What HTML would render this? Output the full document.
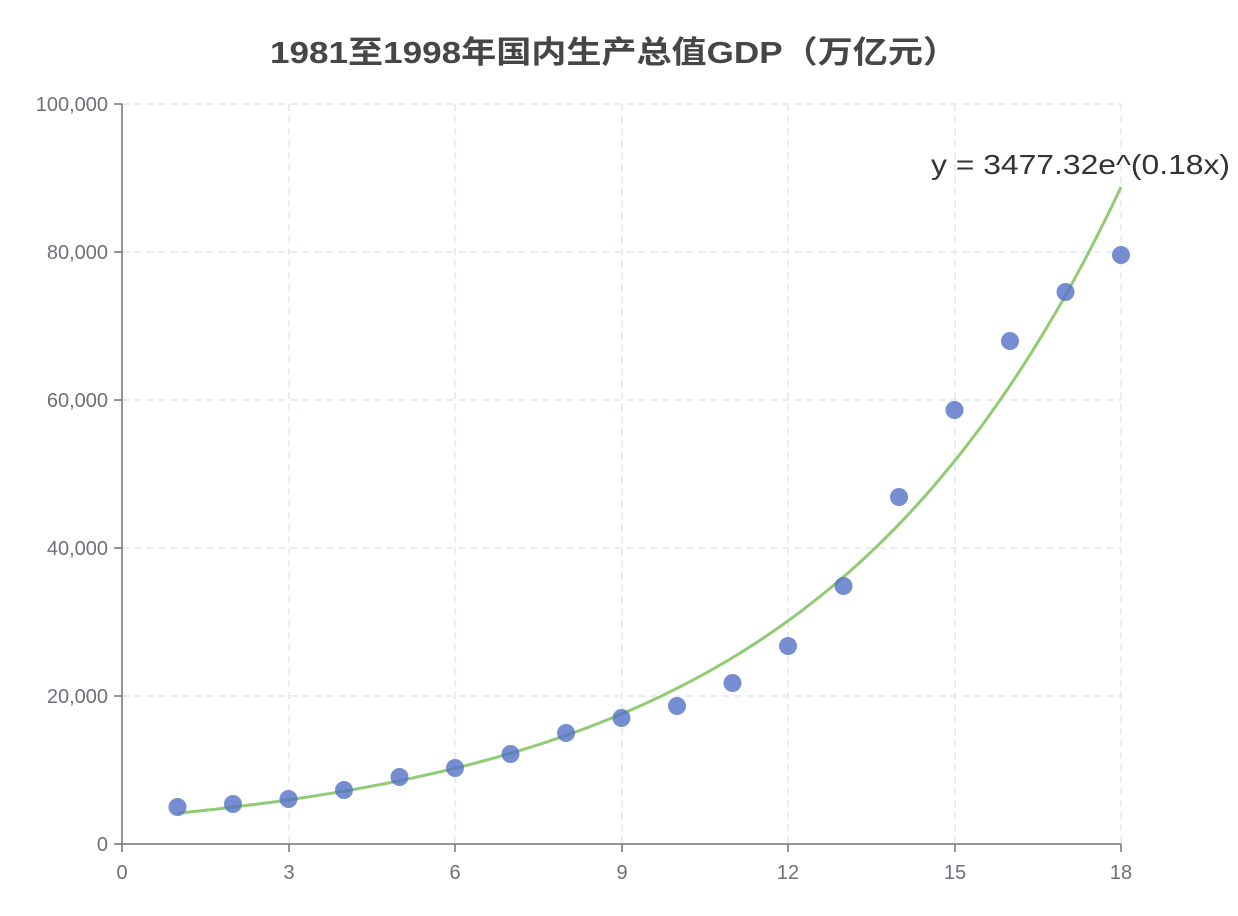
<!DOCTYPE html>
<html><head><meta charset="utf-8"><style>
body{margin:0;background:#fff;}
svg{display:block;font-family:"Liberation Sans","Noto Sans CJK SC",sans-serif;}
</style></head><body>
<svg id="s" width="1238" height="916" xmlns="http://www.w3.org/2000/svg">
<text x="270" y="63" font-size="31" font-weight="bold" fill="#464646" textLength="688" lengthAdjust="spacingAndGlyphs">1981至1998年国内生产总值GDP（万亿元）</text>
<g stroke="#e0e6f1" stroke-width="1.5" stroke-dasharray="7,5" fill="none">
<line x1="122" y1="104" x2="1121" y2="104"/>
<line x1="122" y1="252" x2="1121" y2="252"/>
<line x1="122" y1="400" x2="1121" y2="400"/>
<line x1="122" y1="548" x2="1121" y2="548"/>
<line x1="122" y1="696" x2="1121" y2="696"/>
<line x1="289" y1="104" x2="289" y2="844"/>
<line x1="455" y1="104" x2="455" y2="844"/>
<line x1="622" y1="104" x2="622" y2="844"/>
<line x1="788" y1="104" x2="788" y2="844"/>
<line x1="955" y1="104" x2="955" y2="844"/>
<line x1="1121" y1="104" x2="1121" y2="844"/>
</g>
<g stroke="#6e7079" stroke-width="1.5">
<line x1="122" y1="104" x2="122" y2="844"/>
<line x1="122" y1="844" x2="1121" y2="844"/>
<line x1="114" y1="104" x2="122" y2="104"/><line x1="114" y1="252" x2="122" y2="252"/>
<line x1="114" y1="400" x2="122" y2="400"/><line x1="114" y1="548" x2="122" y2="548"/>
<line x1="114" y1="696" x2="122" y2="696"/><line x1="114" y1="844" x2="122" y2="844"/>
<line x1="122" y1="844" x2="122" y2="852"/><line x1="289" y1="844" x2="289" y2="852"/>
<line x1="455" y1="844" x2="455" y2="852"/><line x1="622" y1="844" x2="622" y2="852"/>
<line x1="788" y1="844" x2="788" y2="852"/><line x1="955" y1="844" x2="955" y2="852"/>
<line x1="1121" y1="844" x2="1121" y2="852"/>
</g>
<g fill="#6e7079" font-size="20" text-anchor="end">
<text x="108" y="111">100,000</text><text x="108" y="259">80,000</text>
<text x="108" y="407">60,000</text><text x="108" y="555">40,000</text>
<text x="108" y="703">20,000</text><text x="108" y="851">0</text>
</g>
<g fill="#6e7079" font-size="20" text-anchor="middle">
<text x="122" y="879">0</text><text x="289" y="879">3</text><text x="455" y="879">6</text>
<text x="622" y="879">9</text><text x="788" y="879">12</text><text x="955" y="879">15</text><text x="1121" y="879">18</text>
</g>
<path id="curve" fill="none" stroke="#91cc75" stroke-width="3"/>
<g id="pts" fill="#5470c6" fill-opacity="0.8"></g>
<text x="931" y="174" font-size="28" fill="#333" textLength="299" lengthAdjust="spacingAndGlyphs">y = 3477.32e^(0.18x)</text>
</svg>
<script>
var X=function(v){return 122+v*999/18},Y=function(v){return 844-v*0.0074};
var d="";for(var i=0;i<=100;i++){var x=1+17*i/100;d+=(i?"L":"M")+X(x).toFixed(1)+","+Y(3477.32*Math.exp(0.18*x)).toFixed(1);}
document.getElementById("curve").setAttribute("d",d);
var py=[807,804,799,790,777,768,754,733,718,706,683,646,586,497,410,341,292,255],g=document.getElementById("pts"),h="";
for(var k=0;k<18;k++)h+='<circle cx="'+X(k+1)+'" cy="'+py[k]+'" r="9"/>';
g.innerHTML=h;
</script>
</body></html>
